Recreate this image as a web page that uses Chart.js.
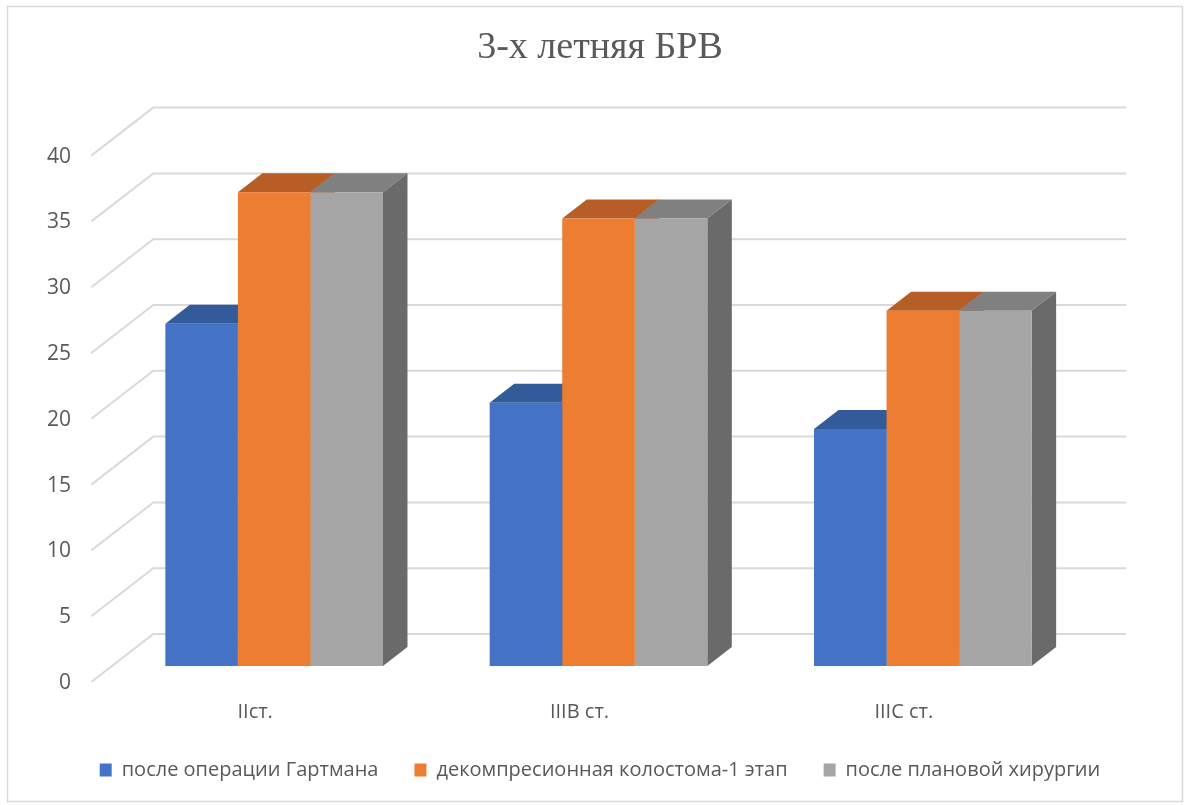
<!DOCTYPE html>
<html lang="ru">
<head>
<meta charset="utf-8">
<title>3-х летняя БРВ</title>
<script src="https://cdn.jsdelivr.net/npm/chart.js@4.4.1/dist/chart.umd.min.js"></script>
<style>
  html, body { margin: 0; padding: 0; background: #ffffff; overflow: hidden; }
  canvas { display: block; }
</style>
</head>
<body>
<canvas id="chart" width="1184" height="805"></canvas>
<script>
// Data
const categories = ['IIст.', 'IIIB ст.', 'IIIC ст.'];
const seriesNames = ['после операции Гартмана', 'декомпресионная колостома-1 этап', 'после плановой хирургии'];
const afterHartmann = [26, 20, 18];
const decompressionStage1 = [36, 34, 27];
const afterPlanned = [36, 34, 27];
const yTicks = [0, 5, 10, 15, 20, 25, 30, 35, 40];

// Colours: front face, top face, side face
const frontColors = ['#4472C4', '#ED7D31', '#A5A5A5'];
const topColors = ['#335A99', '#B65E25', '#808080'];
const sideColors = ['#2B4C84', '#9C4F1E', '#6A6A6A'];
const textColor = '#595959';
const gridColor = '#d9d9d9';

// Oblique projection offsets, relative to the plane the bars stand in
const FRONT = { dx: -20.7, dy: 16 };   // front edge of floor / side wall
const BACK = { dx: 41.3, dy: -32 };    // back wall
const BAR_DEPTH = { dx: 24.5, dy: -19 };

function fillPoly(ctx, pts) {
  ctx.beginPath();
  ctx.moveTo(pts[0][0], pts[0][1]);
  for (let i = 1; i < pts.length; i++) ctx.lineTo(pts[i][0], pts[i][1]);
  ctx.closePath();
  ctx.fill();
}

// Walls and the top/side faces of the columns, drawn behind the front faces
const depthPlugin = {
  id: 'depth3d',
  beforeDatasetsDraw(chart) {
    const { ctx, chartArea: a } = chart;
    const yScale = chart.scales.y;
    ctx.save();
    ctx.strokeStyle = gridColor;
    ctx.lineWidth = 2;
    yScale.ticks.forEach(t => {
      const py = yScale.getPixelForValue(t.value);
      ctx.beginPath();
      ctx.moveTo(a.left + FRONT.dx, py + FRONT.dy);
      ctx.lineTo(a.left + BACK.dx, py + BACK.dy);
      ctx.lineTo(a.right + BACK.dx, py + BACK.dy);
      ctx.stroke();
    });
    chart.data.datasets.forEach((ds, i) => {
      const meta = chart.getDatasetMeta(i);
      meta.data.forEach(bar => {
        const { x, y, base, width } = bar.getProps(['x', 'y', 'base', 'width'], true);
        const l = x - width / 2, r = x + width / 2;
        const { dx, dy } = BAR_DEPTH;
        ctx.fillStyle = topColors[i];
        fillPoly(ctx, [[l, y], [r, y], [r + dx, y + dy], [l + dx, y + dy]]);
        ctx.fillStyle = sideColors[i];
        fillPoly(ctx, [[r, y], [r, base], [r + dx, base + dy], [r + dx, y + dy]]);
      });
    });
    ctx.restore();
  }
};

// Thin frame round the whole chart
const framePlugin = {
  id: 'frame',
  afterDraw(chart) {
    const { ctx } = chart;
    ctx.save();
    ctx.strokeStyle = gridColor;
    ctx.lineWidth = 1.5;
    ctx.strokeRect(7.5, 6.5, 1175, 795);
    ctx.restore();
  }
};

Chart.defaults.font.family = "'Open Sans', 'Noto Sans', sans-serif";
Chart.defaults.color = textColor;

const seriesValues = [afterHartmann, decompressionStage1, afterPlanned];

new Chart(document.getElementById('chart'), {
  type: 'bar',
  data: {
    labels: categories,
    datasets: seriesValues.map((vals, i) => ({
      label: seriesNames[i],
      data: vals,
      backgroundColor: frontColors[i],
      borderWidth: 0,
      categoryPercentage: 0.671,
      barPercentage: 1.0,
      yAxisID: 'y'
    }))
  },
  options: {
    responsive: false,
    devicePixelRatio: 1,
    animation: false,
    layout: { padding: { top: 0, left: 16, right: 0, bottom: 15 } },
    plugins: {
      title: {
        display: true,
        text: '3-х летняя БРВ',
        color: textColor,
        font: { family: "'Liberation Serif', 'Times New Roman', serif", size: 38, weight: 'normal' },
        padding: { top: 25, bottom: 69 }
      },
      legend: {
        position: 'bottom',
        labels: {
          boxWidth: 12,
          boxHeight: 13,
          padding: 36,
          color: textColor,
          font: { size: 20 }
        }
      },
      tooltip: { enabled: false }
    },
    scales: {
      x: {
        grid: { display: false, drawTicks: false },
        border: { display: false },
        afterFit(scale) { scale.height = 58; },
        ticks: { color: textColor, font: { size: 20 }, padding: 34, labelOffset: -19, maxRotation: 0, autoSkip: false }
      },
      y: {
        position: 'left',
        min: 0,
        max: 40,
        grid: { display: false, drawTicks: false },
        border: { display: false },
        afterBuildTicks(scale) { scale.ticks = yTicks.map(v => ({ value: v })); },
        afterFit(scale) { scale.width = 96; },
        ticks: { color: textColor, font: { size: 21 }, padding: 41, labelOffset: 17 }
      },
      yRight: {
        position: 'right',
        display: true,
        grid: { display: false, drawTicks: false },
        border: { display: false },
        ticks: { display: false },
        afterFit(scale) { scale.width = 99; }
      }
    }
  },
  plugins: [depthPlugin, framePlugin]
});
</script>
</body>
</html>
